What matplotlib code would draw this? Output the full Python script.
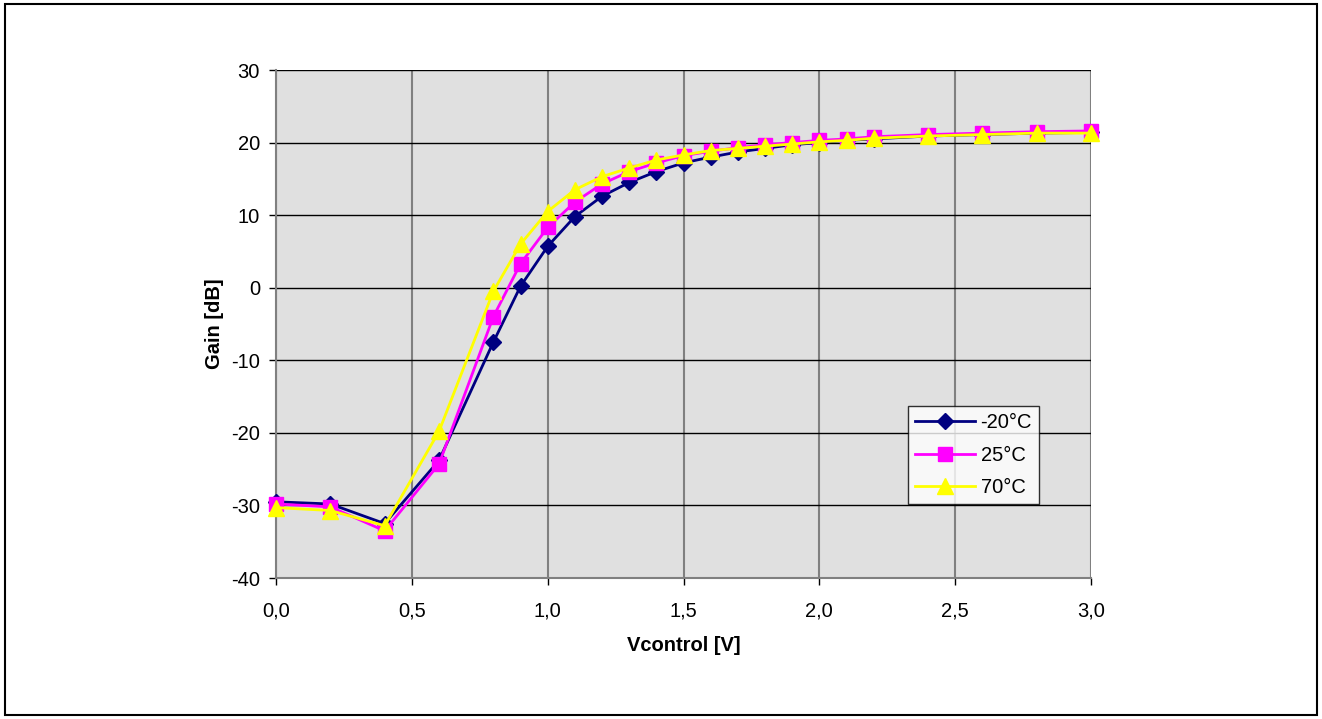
import matplotlib
matplotlib.use('Agg')
import matplotlib.pyplot as plt
from matplotlib.patches import Rectangle
from matplotlib.ticker import FuncFormatter

plt.rcParams['font.family'] = ['Liberation Sans', 'DejaVu Sans']
plt.rcParams['axes.unicode_minus'] = False

# Control voltage [V]
vcontrol = [0.0, 0.2, 0.4, 0.6, 0.8, 0.9, 1.0, 1.1, 1.2, 1.3, 1.4, 1.5,
            1.6, 1.7, 1.8, 1.9, 2.0, 2.1, 2.2, 2.4, 2.6, 2.8, 3.0]

# Gain [dB] per temperature
gain_m20 = [-29.5, -29.8, -32.5, -23.8, -7.5, 0.2, 5.7, 9.8, 12.6, 14.5, 16.0, 17.2,
            18.0, 18.7, 19.2, 19.7, 20.0, 20.3, 20.5, 20.9, 21.1, 21.3, 21.4]
gain_25 = [-29.8, -30.2, -33.5, -24.3, -4.0, 3.3, 8.3, 11.8, 14.3, 16.0, 17.2, 18.2,
           18.8, 19.3, 19.7, 20.0, 20.3, 20.5, 20.8, 21.1, 21.3, 21.5, 21.6]
gain_70 = [-30.3, -30.7, -32.8, -19.8, -0.5, 6.0, 10.5, 13.5, 15.3, 16.5, 17.6, 18.3,
           18.9, 19.2, 19.5, 19.8, 20.1, 20.3, 20.6, 20.9, 21.1, 21.3, 21.3]

fig = plt.figure(figsize=(13.22, 7.19), dpi=100)
# outer chart border
fig.patches.append(Rectangle((5 / 1322, 4 / 719), 1312 / 1322, 711 / 719,
                             transform=fig.transFigure, fill=False,
                             edgecolor='black', linewidth=1.5))

ax = fig.add_axes([276 / 1322, 1 - 578 / 719, 815 / 1322, 508 / 719])
ax.set_facecolor('#e0e0e0')

ax.plot(vcontrol, gain_m20, color='#000080', marker='D', markersize=8,
        linewidth=2, label='-20°C', zorder=3, clip_on=False)
ax.plot(vcontrol, gain_25, color='#ff00ff', marker='s', markersize=10,
        linewidth=2, label='25°C', zorder=4, clip_on=False)
ax.plot(vcontrol, gain_70, color='#ffff00', marker='^', markersize=11,
        linewidth=2, label='70°C', zorder=5, clip_on=False)

ax.set_xlim(0, 3.0)
ax.set_ylim(-40, 30)
ax.set_xticks([0, 0.5, 1.0, 1.5, 2.0, 2.5, 3.0])
ax.set_yticks(range(-40, 31, 10))
ax.xaxis.set_major_formatter(FuncFormatter(lambda v, p: f'{v:.1f}'.replace('.', ',')))

# vertical grid gray, horizontal grid black
ax.xaxis.grid(True, color='#808080', linewidth=1.5)
ax.yaxis.grid(True, color='black', linewidth=1)
ax.set_axisbelow(True)

for side in ['top', 'right']:
    ax.spines[side].set_visible(False)
ax.spines['left'].set_color('#808080')
ax.spines['bottom'].set_color('#808080')
ax.spines['left'].set_linewidth(1.5)
ax.spines['bottom'].set_linewidth(1.5)

ax.tick_params(axis='both', direction='out', length=5, width=1, colors='black',
               labelsize=14.5)
ax.tick_params(axis='y', pad=6.5)
ax.tick_params(axis='x', pad=12)

ax.set_xlabel('Vcontrol [V]', fontsize=14.5, fontweight='bold', labelpad=11)
ax.set_ylabel('Gain [dB]', fontsize=14.5, fontweight='bold', labelpad=5)

leg = ax.legend(loc='upper left', bbox_to_anchor=((908 - 276) / 815, (578 - 406) / 508),
                borderaxespad=0, frameon=True, fancybox=False, edgecolor='black',
                fontsize=14.5, handlelength=3.0, borderpad=0.35, labelspacing=0.68,
                handletextpad=0.25)
leg.get_frame().set_linewidth(1)

plt.savefig('out.png', dpi=100)
